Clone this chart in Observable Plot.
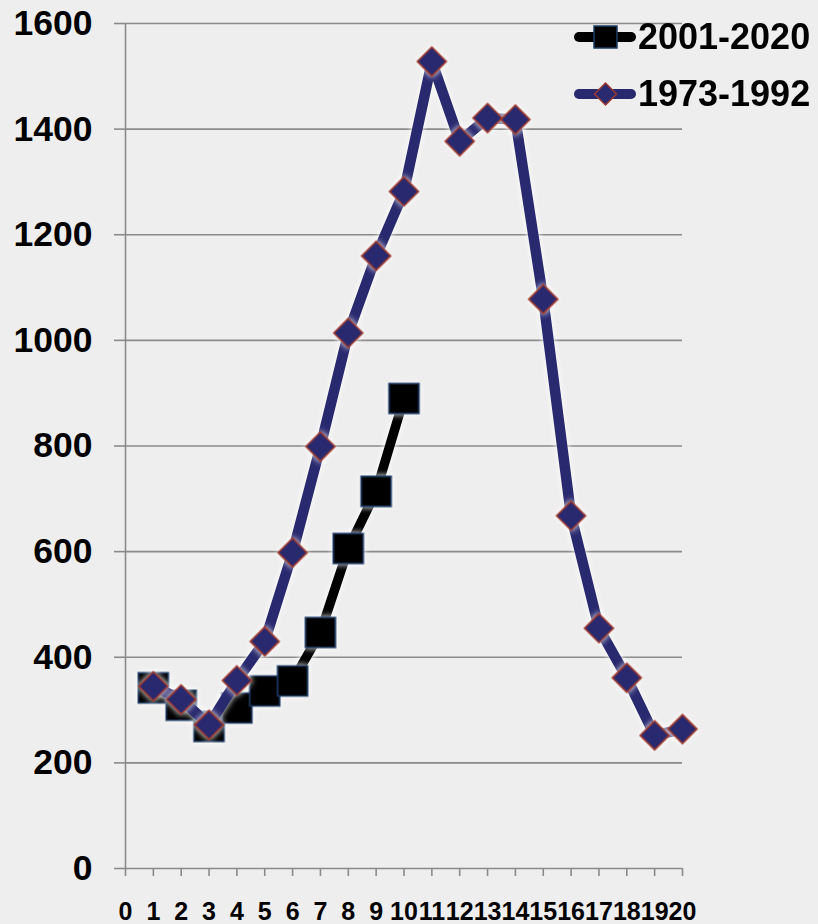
<!DOCTYPE html>
<html><head><meta charset="utf-8">
<script src="https://cdn.jsdelivr.net/npm/d3@7"></script>
<script src="https://cdn.jsdelivr.net/npm/@observablehq/plot@0.6"></script>
<style>
html,body{margin:0;padding:0;background:#eeeeee;}
#wrap{position:relative;width:818px;height:924px;overflow:hidden;}
#legend{position:absolute;left:570px;top:8px;font-family:"Liberation Sans",Arial,sans-serif;font-weight:bold;font-size:36px;color:#000;}
.item{display:flex;align-items:center;height:57px;white-space:nowrap;}
.item svg{display:block;margin-right:2px;}
</style></head>
<body>
<div id="wrap"><div id="chart"></div><div id="legend"></div></div>
<script>
// Data
const xTicks = d3.range(0, 21);
const yTicks = [0, 200, 400, 600, 800, 1000, 1200, 1400, 1600];
const seriesNames = ["2001-2020", "1973-1992"];
const recentX = [1, 2, 3, 4, 5, 6, 7, 8, 9, 10];
const recentY = [342, 309, 269, 304, 336, 355, 447, 606, 714, 890];
const pastX = [1, 2, 3, 4, 5, 6, 7, 8, 9, 10, 11, 12, 13, 14, 15, 16, 17, 18, 19, 20];
const pastY = [345, 320, 272, 356, 430, 598, 799, 1014, 1160, 1282, 1528, 1377, 1421, 1418, 1078, 668, 455, 361, 252, 264];

const recent = recentX.map((x, i) => ({x, y: recentY[i]}));
const past = pastX.map((x, i) => ({x, y: pastY[i]}));

const BLUE = "#29296f", BLUE_EDGE = "#a0392c", BLACK = "#000", BLACK_EDGE = "#1f3d66", GRID = "#8a8a8a";

// custom symbols: half-extent equals r
const squareSym = {draw(ctx, size) { const h = Math.sqrt(size / Math.PI); ctx.rect(-h, -h, 2 * h, 2 * h); }};
const diamondSym = {draw(ctx, size) { const h = Math.sqrt(size / Math.PI); ctx.moveTo(0, -h); ctx.lineTo(h, 0); ctx.lineTo(0, h); ctx.lineTo(-h, 0); ctx.closePath(); }};

const font = '"Liberation Sans", Arial, sans-serif';

const chart = Plot.plot({
  width: 818, height: 924,
  marginLeft: 125, marginRight: 136, marginTop: 23, marginBottom: 56,
  style: {background: "transparent", fontFamily: font, fontWeight: "bold", color: "#000"},
  x: {domain: [0, 20], label: null},
  y: {domain: [0, 1600], label: null},
  marks: [
    Plot.ruleY(yTicks, {stroke: GRID, strokeWidth: 1.6}),
    Plot.ruleX([0], {stroke: GRID, strokeWidth: 1.6}),
    Plot.axisY({ticks: yTicks, tickSize: 11, tickPadding: 22, fontSize: 35.5, stroke: GRID, strokeWidth: 1.6, fill: "#000", label: null, tickFormat: d => String(d)}),
    Plot.axisX({ticks: xTicks, tickSize: 8, tickPadding: 26, fontSize: 25, stroke: GRID, strokeWidth: 1.6, fill: "#000", label: null, tickFormat: d => String(d)}),
    Plot.line(recent, {x: "x", y: "y", stroke: BLACK, strokeWidth: 9.5, strokeLinejoin: "round"}),
    Plot.dot(recent, {x: "x", y: "y", symbol: squareSym, r: 15, fill: BLACK, stroke: BLACK_EDGE, strokeWidth: 1.6}),
    Plot.line(past, {x: "x", y: "y", stroke: BLUE, strokeWidth: 10.5, strokeLinejoin: "round"}),
    Plot.dot(past, {x: "x", y: "y", symbol: diamondSym, r: 14.5, fill: BLUE, stroke: BLUE_EDGE, strokeWidth: 1.6})
  ]
});
document.getElementById("chart").appendChild(chart);
chart.querySelectorAll('g[aria-label="line"], g[aria-label="dot"]').forEach(g => {
  g.style.filter = "drop-shadow(0 0 3px #ffffff)";
});

// Legend
const legendSpecs = [
  {name: seriesNames[0], line: BLACK, fill: BLACK, edge: BLACK_EDGE, shape: "square"},
  {name: seriesNames[1], line: BLUE, fill: BLUE, edge: BLUE_EDGE, shape: "diamond"}
];
const legend = d3.select("#legend");
legendSpecs.forEach(s => {
  const item = legend.append("div").attr("class", "item");
  const sv = item.append("svg").attr("width", 66).attr("height", 30);
  sv.append("line").attr("x1", 9).attr("x2", 61).attr("y1", 15).attr("y2", 15)
    .attr("stroke", s.line).attr("stroke-width", 10).attr("stroke-linecap", "round");
  if (s.shape === "square") {
    sv.append("rect").attr("x", 24).attr("y", 4).attr("width", 23).attr("height", 22)
      .attr("fill", s.fill).attr("stroke", s.edge).attr("stroke-width", 1.5);
  } else {
    sv.append("path").attr("d", "M35.5,4L46.5,15L35.5,26L24.5,15Z")
      .attr("fill", s.fill).attr("stroke", s.edge).attr("stroke-width", 1.5);
  }
  item.append("span").text(s.name);
});
</script>
</body></html>
